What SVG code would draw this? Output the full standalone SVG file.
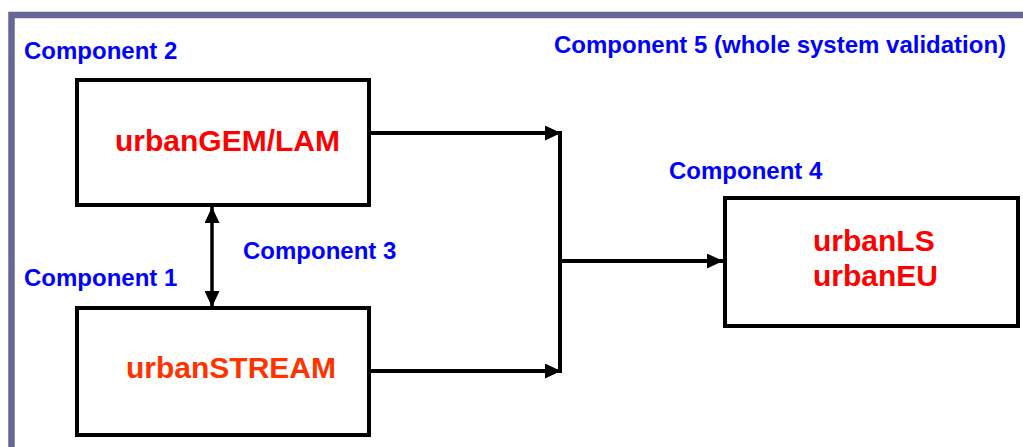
<svg xmlns="http://www.w3.org/2000/svg" width="1023" height="447" viewBox="0 0 1023 447">
<style>
.lbl{font-family:"Liberation Sans",Arial,sans-serif;font-weight:bold;font-size:24px;fill:#0000ff}
.name{font-family:"Liberation Sans",Arial,sans-serif;font-weight:bold;font-size:30px;fill:#ff0000}
.box{fill:#ffffff;stroke:#000000;stroke-width:4}
.conn{fill:none;stroke:#000000;stroke-width:4}
</style>
<defs>
<marker id="ah" markerUnits="userSpaceOnUse" markerWidth="17" markerHeight="15" refX="16" refY="7.5" orient="auto-start-reverse">
<path d="M0,0 L16,7.5 L0,15 Z" fill="#000000"/>
</marker>
</defs>
<rect width="1023" height="447" fill="#ffffff"/>
<path d="M11.5,460 L11.5,15 L1030,15" fill="none" stroke="#666699" stroke-width="6.5"/>
<text class="lbl" x="554" y="53">Component 5 (whole system validation)</text>
<g id="node-gem">
<rect class="box" x="77" y="80" width="292" height="125"/>
<text class="name" x="115" y="151">urbanGEM/LAM</text>
<text class="lbl" x="24" y="59">Component 2</text>
</g>
<g id="node-stream">
<rect class="box" x="77" y="308" width="292" height="127"/>
<text class="name" x="126" y="378" style="fill:#ff3300">urbanSTREAM</text>
<text class="lbl" x="24" y="286">Component 1</text>
</g>
<g id="node-ls">
<rect class="box" x="725" y="198" width="293" height="128"/>
<text class="name" x="813" y="251">urbanLS</text>
<text class="name" x="813" y="286">urbanEU</text>
<text class="lbl" x="669" y="179">Component 4</text>
</g>
<g id="connectors">
<path class="conn" d="M369,133 L561,133" marker-end="url(#ah)"/>
<path class="conn" d="M369,371 L561,371" marker-end="url(#ah)"/>
<path class="conn" d="M560,131 L560,373"/>
<path class="conn" d="M560,261 L723,261" marker-end="url(#ah)"/>
<path class="conn" d="M212,207 L212,307" marker-start="url(#ah)" marker-end="url(#ah)" style="stroke-width:3.5"/>
<text class="lbl" x="243" y="259">Component 3</text>
</g>
</svg>
